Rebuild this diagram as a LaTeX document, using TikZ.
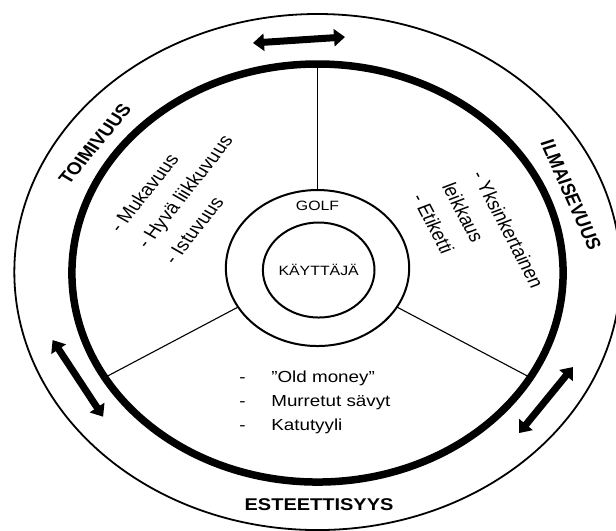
\documentclass[tikz,border=0pt]{standalone}
\usepackage{fontspec}
\setmainfont{Liberation Sans}
\usetikzlibrary{arrows.meta, positioning}

\begin{document}
\begin{tikzpicture}[
    x=1pt, y=1pt, xscale=1.175, transform shape,
    ring/.style={circle, draw, inner sep=0pt, outer sep=0pt},
    catlbl/.style={font=\fontsize{17}{20}\selectfont\bfseries, inner sep=0pt},
    lst/.style={align=left, inner sep=0pt, font=\fontsize{17.5}{28}\selectfont},
    spoke/.style={line width=1.1pt},
    arr/.style={{Triangle[length=11pt,width=17pt]}-{Triangle[length=11pt,width=17pt]}, line width=7pt},
  ]
    \useasboundingbox (-270.2,-257) rectangle (254,273);

    % rings
    \node[ring, minimum size=516pt, line width=1.8pt] (outer) at (0,1) {};
    \node[ring, minimum size=418pt, line width=7.5pt] (rim) at (0,0) {};
    \node[ring, minimum size=156pt, line width=2pt] (golf) at (0,5) {};
    \node[ring, minimum size=95pt, line width=2pt, font=\fontsize{13.5}{15}\selectfont] (user) at (1,3) {KÄYTTÄJÄ};
    \node[font=\fontsize{13.5}{15}\selectfont, inner sep=0pt, below=10.5pt of golf.north] (golfLbl) {GOLF};

    % spokes
    \foreach \a in {90,210,330}
      \draw[spoke] (golf.\a) -- (rim.\a);

    % sections
    \node[catlbl, rotate=55] (toimivuus) at (-189.4,129) {TOIMIVUUS};
    \node[catlbl, rotate=-69] (ilmaisevuus) at (215.7,78) {ILMAISEVUUS};
    \node[catlbl] (esteettisyys) at (1.3,-232) {ESTEETTISYYS};

    % lists
    \node[lst, rotate=56] (toimiList) at (-113.2,81.5) {- Mukavuus\\- Hyvä liikkuvuus\\- Istuvuus};
    \node[lst, rotate=-66] (ilmaisuList) at (136.8,32.2) {- Yksinkertainen\\leikkaus\\- Etiketti};
    \node[lst, anchor=west, font=\fontsize{16}{24}\selectfont] (esteList) at (-66.8,-129)
      {\begin{tabular}{@{}l@{\hspace{22pt}}l@{}} - & ”Old money”\\ - & Murretut sävyt\\ - & Katutyyli\end{tabular}};

    % arrows
    \coordinate (topL) at (-54.9,230);
    \coordinate (topR) at (23.4,236);
    \coordinate (leftU) at (-225.4,-67);
    \coordinate (leftD) at (-182.4,-143.7);
    \coordinate (rightU) at (217.4,-94);
    \coordinate (rightD) at (171.5,-160);
    \draw[arr] (topL) -- (topR);
    \draw[arr] (leftU) -- (leftD);
    \draw[arr] (rightU) -- (rightD);
\end{tikzpicture}
\end{document}
